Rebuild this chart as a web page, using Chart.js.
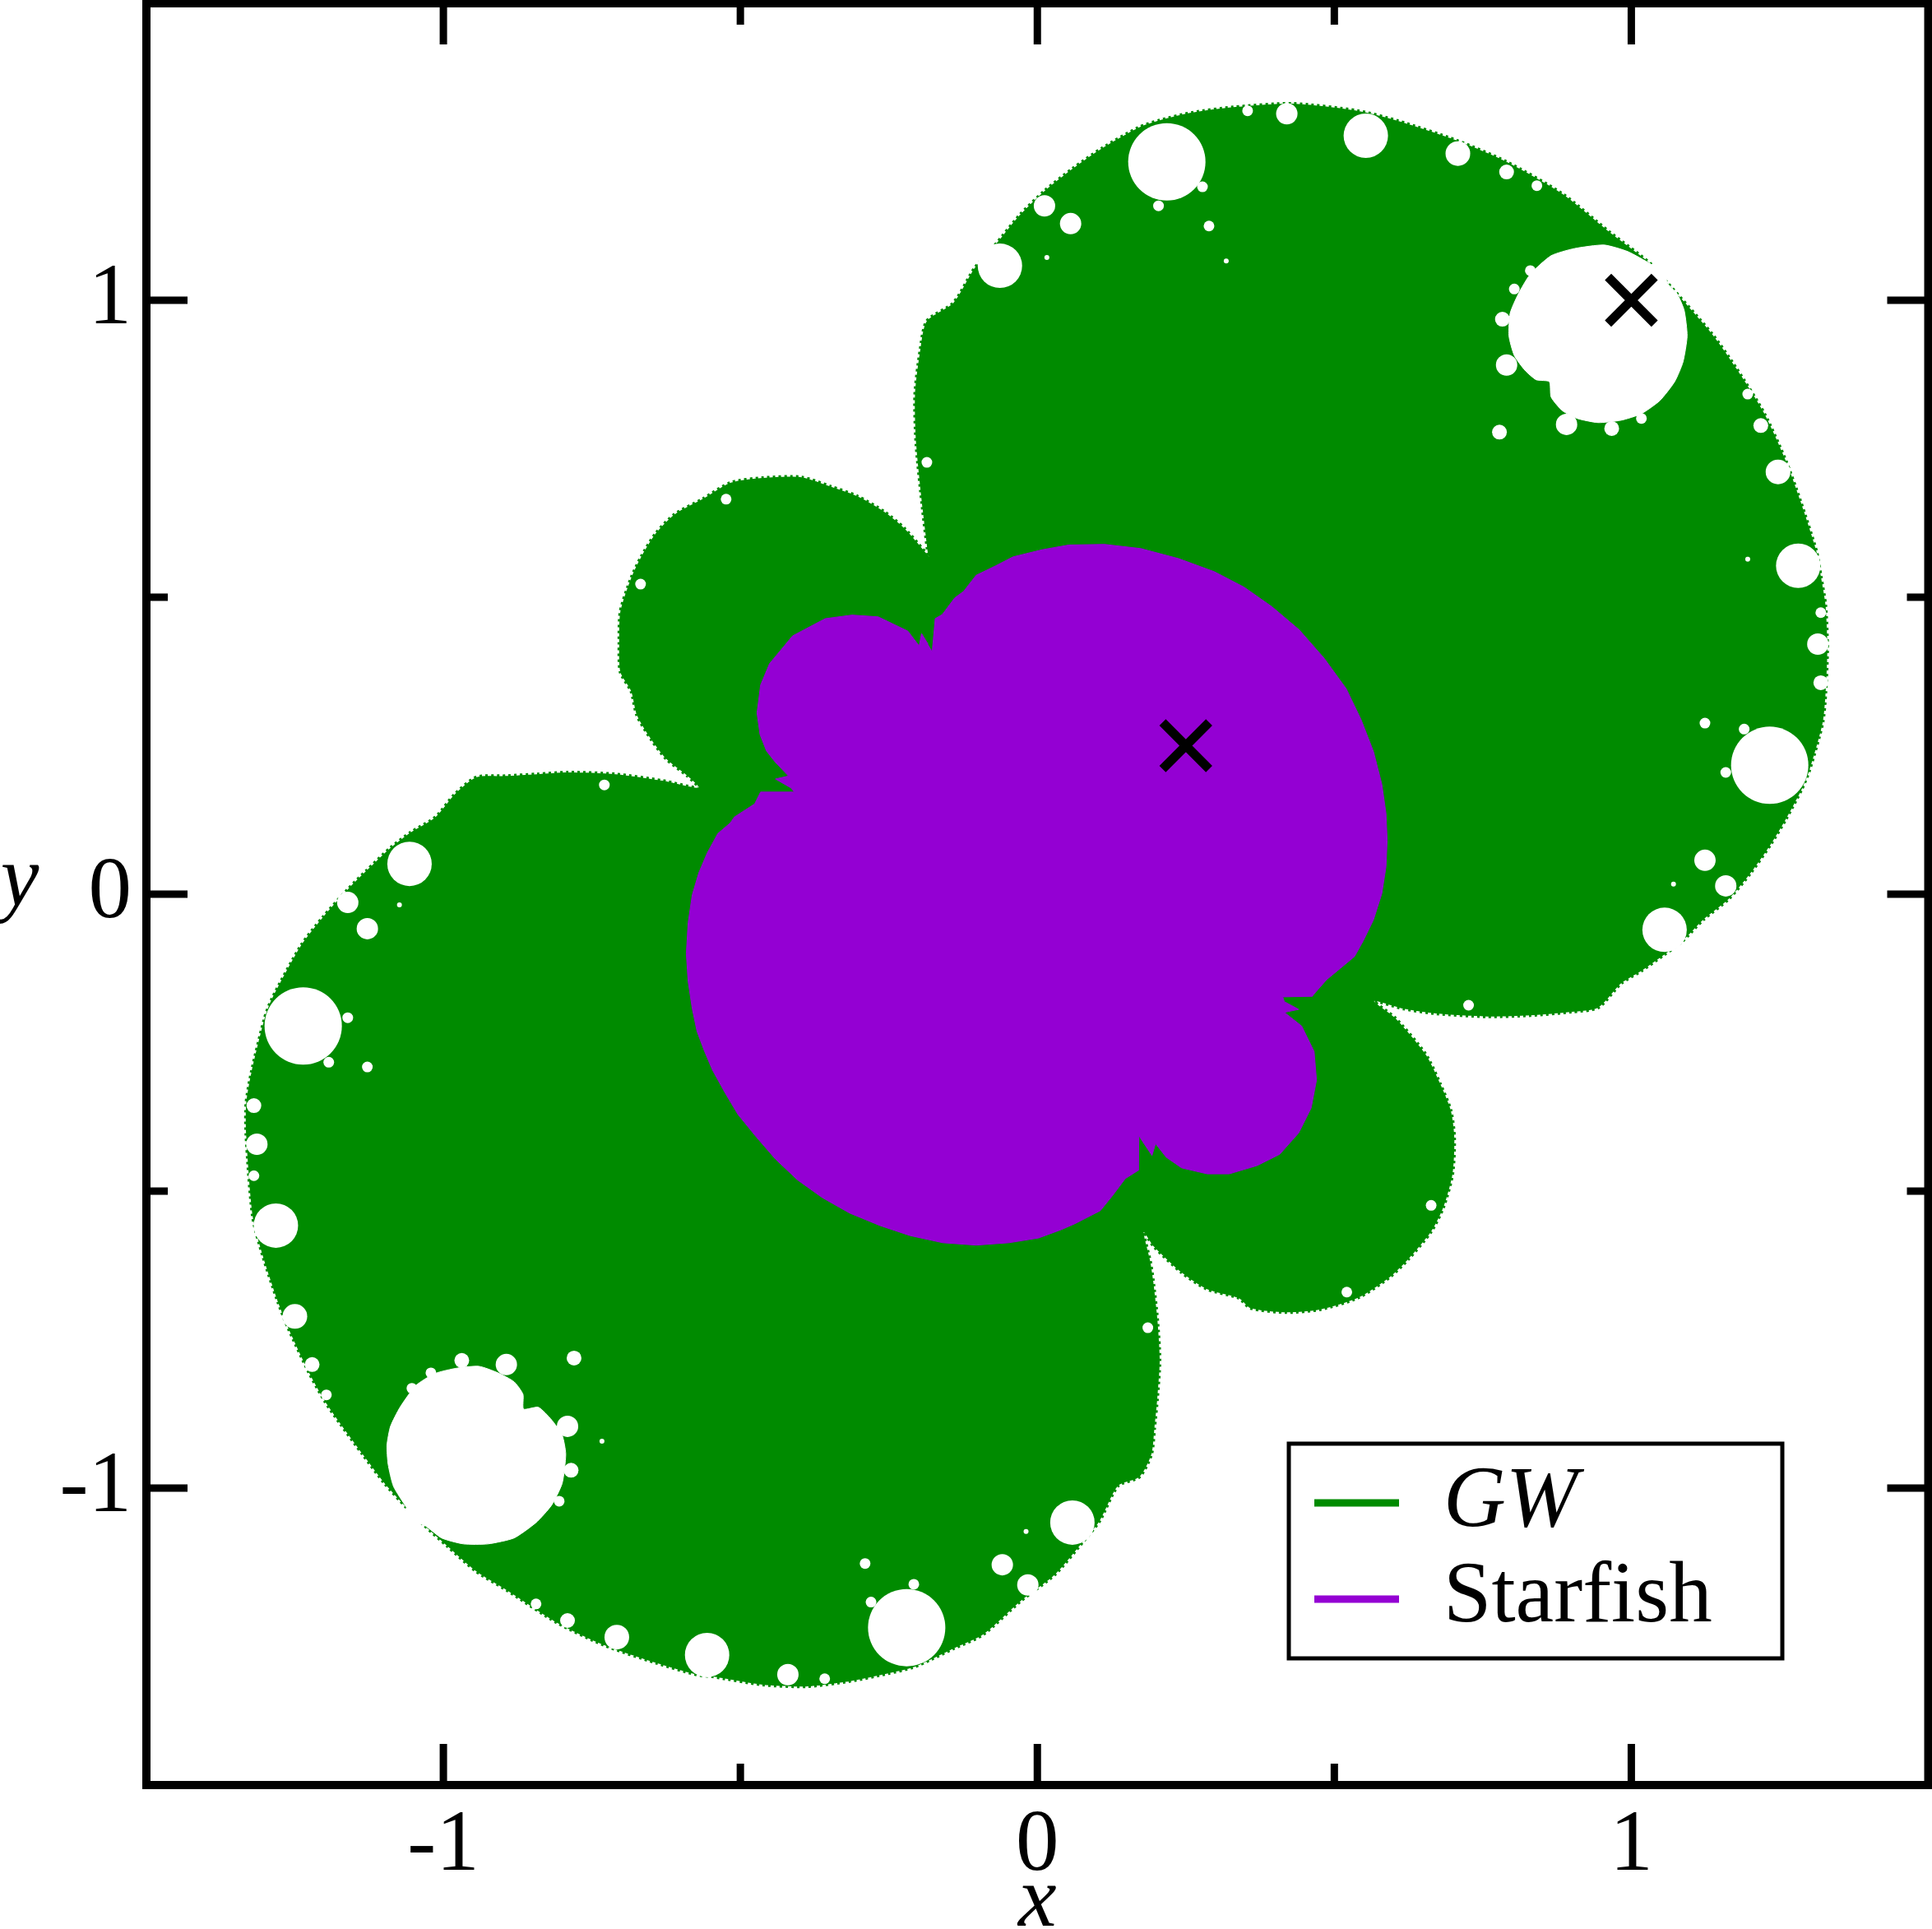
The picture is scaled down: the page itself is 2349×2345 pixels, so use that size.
<!DOCTYPE html>
<html>
<head>
<meta charset="utf-8">
<title>GW and Starfish</title>
<script src="https://cdn.jsdelivr.net/npm/chart.js@4/dist/chart.umd.min.js"></script>
<style>
    html, body { margin: 0; padding: 0; background: #ffffff; }
    canvas { display: block; }
</style>
</head>
<body>
<canvas id="regionChart" width="2349" height="2345"></canvas>
<script>
// Axis ticks
const tickValues = [-1, -0.5, 0, 0.5, 1];
const labelValues = [-1, 0, 1];

const gwOutline = [
    [-.184,.571],[-.193,.647],[-.204,.758],[-.206,.841],[-.197,.917],[-.186,.965],[-.141,.996],[-.105,1.055],
    [-.071,1.093],[-.030,1.143],[.012,1.184],[.060,1.222],[.109,1.256],[.171,1.291],[.206,1.303],[.261,1.316],
    [.330,1.325],[.429,1.331],[.539,1.319],[.607,1.302],[.706,1.269],[.790,1.233],[.884,1.179],[.963,1.115],
    [1.033,1.061],[1.060,1.030],[1.136,.943],[1.177,.885],[1.224,.809],[1.260,.730],[1.285,.661],[1.312,.576],
    [1.319,.536],[1.327,.486],[1.330,.413],[1.327,.338],[1.322,.288],[1.300,.209],[1.287,.177],[1.260,.126],
    [1.236,.086],[1.201,.036],[1.164,-.008],[1.121,-.043],[1.085,-.080],[1.055,-.102],[1.017,-.129],[.983,-.150],
    [.944,-.191],[.900,-.198],[.830,-.204],[.756,-.206],[.671,-.201],[.617,-.193],[.567,-.180],
    [.603,-.209],[.654,-.270],[.678,-.319],[.696,-.364],[.702,-.410],[.699,-.471],[.684,-.526],[.663,-.568],
    [.625,-.614],[.593,-.645],[.541,-.679],[.477,-.699],[.419,-.704],[.359,-.697],[.339,-.680],[.286,-.665],
    [.243,-.637],[.196,-.593],[.179,-.569],
    [.190,-.618],[.195,-.651],[.202,-.715],[.206,-.784],[.202,-.848],[.197,-.900],[.192,-.943],[.172,-.981],
    [.136,-.996],[.105,-1.055],[.077,-1.090],[.030,-1.145],[-.028,-1.190],[-.092,-1.247],[-.141,-1.270],[-.178,-1.288],
    [-.210,-1.302],[-.251,-1.312],[-.315,-1.325],[-.390,-1.334],[-.463,-1.331],[-.549,-1.317],[-.574,-1.314],[-.643,-1.294],
    [-.728,-1.265],[-.808,-1.227],[-.893,-1.172],[-.945,-1.140],[-.994,-1.097],[-1.033,-1.062],[-1.062,-1.033],[-1.099,-.992],
    [-1.136,-.943],[-1.174,-.891],[-1.200,-.853],[-1.226,-.806],[-1.261,-.731],[-1.278,-.688],[-1.304,-.609],[-1.321,-.543],
    [-1.332,-.406],[-1.332,-.352],[-1.323,-.299],[-1.301,-.209],[-1.289,-.177],[-1.240,-.087],[-1.203,-.039],[-1.161,.008],
    [-1.129,.040],[-1.089,.078],[-1.055,.104],[-1.013,.130],[-.981,.168],[-.944,.197],[-.895,.199],[-.843,.202],
    [-.790,.205],[-.710,.202],[-.631,.191],[-.570,.179],
    [-.589,.199],[-.624,.227],[-.649,.259],[-.674,.301],[-.684,.342],[-.702,.374],[-.704,.421],[-.702,.476],
    [-.684,.532],[-.667,.568],[-.642,.608],[-.610,.640],[-.564,.665],[-.516,.693],[-.461,.701],[-.397,.702],
    [-.347,.686],[-.303,.670],[-.258,.644],[-.224,.616],[-.182,.568]
];

// Outline of the Starfish region
const starfishOutline = [
    [-.177,.409],[-.172,.464],[-.160,.471],[-.139,.499],[-.124,.510],[-.103,.537],[-.070,.553],[-.041,.568],
    [.008,.580],[.053,.588],[.113,.589],[.174,.582],[.238,.565],[.298,.543],[.348,.517],[.395,.484],
    [.441,.445],[.483,.397],[.520,.346],[.545,.294],[.566,.240],[.580,.185],[.587,.136],[.589,.091],
    [.587,.046],[.580,.001],[.566,-.043],[.549,-.078],[.534,-.105],[.510,-.125],[.487,-.144],[.465,-.169],
    [.463,-.172],[.413,-.173],[.416,-.181],
    [.440,-.194],[.416,-.199],[.445,-.222],[.466,-.265],[.470,-.313],[.461,-.360],[.440,-.402],[.408,-.438],
    [.370,-.457],[.323,-.471],[.286,-.471],[.243,-.461],[.217,-.443],[.199,-.420],[.193,-.440],[.175,-.413],
    [.171,-.406],[.170,-.465],[.148,-.479],[.127,-.507],[.106,-.533],[.063,-.555],[.040,-.565],[.002,-.579],
    [-.048,-.587],[-.103,-.591],[-.159,-.587],[-.214,-.575],[-.265,-.558],[-.316,-.537],[-.362,-.511],[-.404,-.481],
    [-.441,-.446],[-.473,-.409],[-.504,-.371],[-.526,-.334],[-.547,-.296],[-.561,-.263],[-.573,-.231],[-.581,-.193],
    [-.588,-.147],[-.591,-.100],[-.588,-.048],[-.581,-.001],[-.570,.036],[-.556,.069],[-.538,.102],[-.517,.120],
    [-.510,.130],[-.476,.152],[-.466,.172],[-.409,.172],
    [-.415,.179],[-.441,.194],[-.419,.199],[-.441,.222],[-.456,.241],[-.467,.269],[-.472,.305],[-.466,.352],
    [-.451,.388],[-.412,.435],[-.357,.464],[-.312,.470],[-.268,.467],[-.218,.443],[-.199,.418],[-.195,.439],
    [-.184,.421]
];

// The two largest holes are not quite round, so they get outlines
const holeUpperRight = [
    [1.033,1.061],[.994,1.082],[.954,1.093],[.904,1.087],[.865,1.075],[.830,1.044],[.810,1.011],[.796,.978],
    [.794,.940],[.803,.907],[.821,.882],[.840,.866],[.862,.863],[.865,.837],[.884,.814],[.909,.801],
    [.944,.794],[.983,.798],[1.017,.809],[1.048,.831],[1.073,.863],[1.087,.896],[1.094,.940],[1.089,.983],
    [1.077,1.011],[1.060,1.030],[1.060,1.055]
];
const holeLowerLeft = [
    [-1.062,-1.033],[-1.084,-.997],[-1.093,-.960],[-1.095,-.928],[-1.089,-.896],[-1.073,-.864],[-1.046,-.827],[-1.014,-.807],
    [-.977,-.798],[-.940,-.795],[-.908,-.806],[-.881,-.821],[-.866,-.842],[-.865,-.867],[-.840,-.864],[-.818,-.885],
    [-.800,-.911],[-.794,-.943],[-.800,-.992],[-.818,-1.029],[-.844,-1.058],[-.881,-1.084],[-.925,-1.094],[-.966,-1.094],
    [-1.003,-1.084],[-1.033,-1.062],[-1.062,-1.057]
];

// Round holes, grouped by how big they look
const holesLarge = [[.218,1.233],[-.220,-1.235],[-1.236,-.222],[1.233,.217]];
const holesMedium = [[.553,1.277],[-.556,-1.281],[1.281,.553],[-1.282,-.558],[1.056,-.060],[-1.057,.051],[-.063,1.058],[.059,-1.058]];
const holesSmall = [[.708,1.247],[-.708,-1.251],[1.247,.711],[-1.250,-.711]];
const holesCompact = [
    [.420,1.314],[-.420,-1.314],[1.124,.057],[-1.128,-.058],[1.159,.014],[-1.161,-.014],[-.016,-1.163],[.012,1.159],
    [1.314,.421],[-1.314,-.421],[.790,.891],[-.894,-.792],[.891,.791],[-.791,-.896],[-.059,-1.129],[.056,1.129]
];
const holesTiny = [
    [.790,1.216],[-.791,-1.223],[1.218,.789],[-1.221,-.792],[.783,.968],[-.969,-.785],[.967,.784],[-.785,-.970],
    [.778,.778],[-.780,-.781],[1.319,.356],[-1.319,-.356]
];
const holesSpeck = [
    [.354,1.319],[-.358,-1.321],[.803,1.019],[-1.021,-.806],[.841,1.193],[-.844,-1.195],[1.017,.801],[-.805,-1.022],
    [1.196,.842],[-1.197,-.843],[1.319,.474],[-1.319,-.474],[1.190,.278],[-1.161,-.208],[1.159,.205],[-1.193,-.283],
    [1.124,.288],[-1.128,-.291],[.726,-.187],[-.729,.184],[.204,1.159],[-.208,-1.162],[.278,1.191],[-.280,-1.192],
    [.289,1.125],[-.290,-1.127],[-.186,.727],[.186,-.730],[-.524,.665],[.521,-.670],[-.668,.522],[.663,-.524],
    [.830,1.050],[-1.053,-.832]
];
const holesDot = [[.016,1.072],[-.019,-1.073],[1.071,.017],[-1.074,-.018],[.318,1.066],[1.196,.564],[-.733,-.921]];

// The two crosses
const crossPoints = [[.25,.25],[1,1]];

const GREEN = '#008b00';
const PURPLE = '#9400d3';
const SERIF = '"Liberation Serif", "Times New Roman", serif';

function toPoints(pairs) {
    return pairs.map(p => ({ x: p[0], y: p[1] }));
}

function shape(label, pairs, color, order, extra) {
    return Object.assign({
        label: label,
        data: toPoints(pairs),
        showLine: true,
        fill: 'shape',
        backgroundColor: color,
        borderColor: color,
        borderWidth: 1,
        pointRadius: 0,
        order: order
    }, extra);
}

function holes(pairs, radius) {
    return {
        data: toPoints(pairs),
        showLine: false,
        pointRadius: radius,
        pointBackgroundColor: '#ffffff',
        pointBorderWidth: 0,
        order: 3
    };
}

// The labels at the edges must not push the plot area in
function noPadding(scale) {
    scale.paddingTop = 0;
    scale.paddingBottom = 0;
    scale.paddingLeft = 0;
    scale.paddingRight = 0;
}

// Inward ticks on all four sides, the frame, the axis letters and the legend box
const framePlugin = {
    id: 'frame',
    afterDatasetsDraw(chart) {
        const ctx = chart.ctx;
        const area = chart.chartArea;
        const xs = chart.scales.x;
        const ys = chart.scales.y;

        ctx.save();
        ctx.strokeStyle = '#000000';
        ctx.lineWidth = 9;
        tickValues.forEach(v => {
            const len = labelValues.includes(v) ? 50 : 26;
            const px = xs.getPixelForValue(v);
            const py = ys.getPixelForValue(v);
            ctx.beginPath();
            ctx.moveTo(px, area.bottom); ctx.lineTo(px, area.bottom - len);
            ctx.moveTo(px, area.top); ctx.lineTo(px, area.top + len);
            ctx.moveTo(area.left, py); ctx.lineTo(area.left + len, py);
            ctx.moveTo(area.right, py); ctx.lineTo(area.right - len, py);
            ctx.stroke();
        });
        ctx.lineWidth = 10;
        ctx.strokeRect(area.left, area.top, area.right - area.left, area.bottom - area.top);

        ctx.fillStyle = '#000000';
        ctx.textBaseline = 'alphabetic';
        ctx.textAlign = 'center';
        ctx.font = 'italic 105px ' + SERIF;
        ctx.fillText('x', xs.getPixelForValue(0), 2341);
        ctx.fillText('y', 24, 1100);

        // legend
        ctx.fillStyle = '#ffffff';
        ctx.fillRect(1567, 1755, 600, 261);
        ctx.lineWidth = 5;
        ctx.strokeRect(1567, 1755, 600, 261);
        ctx.lineWidth = 9;
        ctx.strokeStyle = GREEN;
        ctx.beginPath(); ctx.moveTo(1598, 1827); ctx.lineTo(1701, 1827); ctx.stroke();
        ctx.strokeStyle = PURPLE;
        ctx.beginPath(); ctx.moveTo(1598, 1944); ctx.lineTo(1701, 1944); ctx.stroke();
        ctx.fillStyle = '#000000';
        ctx.textAlign = 'left';
        ctx.font = 'italic 105px ' + SERIF;
        ctx.fillText('GW', 1755, 1855);
        ctx.font = '105px ' + SERIF;
        ctx.fillText('Starfish', 1755, 1971);
        ctx.restore();
    }
};

function tickLabel(value) {
    return labelValues.includes(value) ? String(value) : '';
}

new Chart(document.getElementById('regionChart').getContext('2d'), {
    type: 'scatter',
    data: {
        datasets: [
            {
                data: toPoints(crossPoints),
                pointStyle: 'crossRot',
                pointRadius: 40,
                pointBorderColor: '#000000',
                pointBorderWidth: 11,
                showLine: false,
                order: 0
            },
            shape('Starfish', starfishOutline, PURPLE, 1),
            shape('', holeUpperRight, '#ffffff', 3, { tension: 0.2 }),
            shape('', holeLowerLeft, '#ffffff', 3, { tension: 0.2 }),
            holes(holesLarge, 47),
            holes(holesMedium, 27),
            holes(holesSmall, 15),
            holes(holesCompact, 13),
            holes(holesTiny, 9),
            holes(holesSpeck, 6.5),
            holes(holesDot, 3),
            shape('GW', gwOutline, GREEN, 4, { tension: 0.25, borderWidth: 4, borderDash: [3, 4] })
        ]
    },
    options: {
        responsive: false,
        animation: false,
        layout: { autoPadding: false, padding: { top: 4, right: 4.5, left: 0, bottom: 0 } },
        plugins: {
            legend: { display: false },
            tooltip: { enabled: false }
        },
        scales: {
            x: {
                type: 'linear',
                min: -1.5,
                max: 1.5,
                afterFit: s => { s.height = 175; noPadding(s); },
                grid: { display: false },
                border: { display: false },
                ticks: {
                    stepSize: 0.5,
                    autoSkip: false,
                    maxRotation: 0,
                    padding: 4,
                    color: '#000000',
                    font: { family: SERIF, size: 105 },
                    callback: tickLabel
                }
            },
            y: {
                type: 'linear',
                min: -1.5,
                max: 1.5,
                afterFit: s => { s.width = 178; noPadding(s); },
                grid: { display: false },
                border: { display: false },
                ticks: {
                    stepSize: 0.5,
                    autoSkip: false,
                    padding: 10,
                    color: '#000000',
                    font: { family: SERIF, size: 105 },
                    callback: tickLabel
                }
            }
        }
    },
    plugins: [framePlugin]
});
</script>
</body>
</html>
